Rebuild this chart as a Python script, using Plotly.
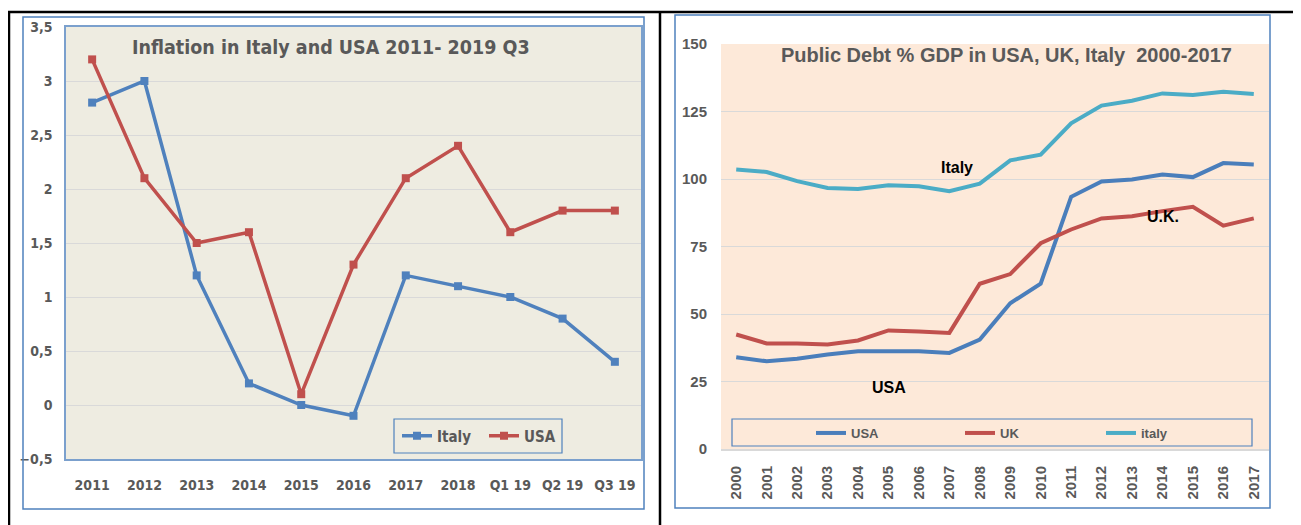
import plotly.graph_objects as go

W, H = 1301, 525

# ---------------- data ----------------
infl_labels = ["2011", "2012", "2013", "2014", "2015", "2016", "2017", "2018", "Q1 19", "Q2 19", "Q3 19"]
infl_italy = [2.8, 3.0, 1.2, 0.2, 0.0, -0.1, 1.2, 1.1, 1.0, 0.8, 0.4]
infl_usa = [3.2, 2.1, 1.5, 1.6, 0.1, 1.3, 2.1, 2.4, 1.6, 1.8, 1.8]

debt_years = [str(y) for y in range(2000, 2018)]
debt_usa = [34.0, 32.5, 33.4, 35.0, 36.2, 36.2, 36.2, 35.6, 40.5, 54.0, 61.2, 93.4, 99.1, 99.8, 101.7, 100.7, 105.9, 105.4]
debt_uk = [42.4, 39.1, 39.1, 38.7, 40.2, 43.9, 43.5, 43.0, 61.2, 64.8, 76.2, 81.3, 85.4, 86.2, 88.1, 89.7, 82.7, 85.4]
debt_italy = [103.5, 102.6, 99.2, 96.7, 96.3, 97.7, 97.3, 95.5, 98.3, 106.9, 109.0, 120.6, 127.2, 129.0, 131.7, 131.1, 132.3, 131.5]

# screen px -> paper (the page has an 8px body margin)
OFF = 8

def px(x):
    return (x - OFF) / W

def py(y):
    return 1 - (y - OFF) / H

NARROW = "Liberation Sans Narrow, Arial Narrow, DejaVu Sans Condensed, sans-serif"
ARIAL = "Liberation Sans, Arial, sans-serif"
GREY = "#595959"
BLUE = "#4F81BD"
RED = "#C0504D"
CYAN = "#4BACC6"

fig = go.Figure()

# ---------------- left chart: inflation ----------------
fig.add_trace(go.Scatter(x=infl_labels, y=infl_italy, name="Italy", mode="lines+markers",
                         line=dict(color=BLUE, width=3.5), marker=dict(symbol="square", size=8, color=BLUE),
                         xaxis="x", yaxis="y", legend="legend4"))
fig.add_trace(go.Scatter(x=infl_labels, y=infl_usa, name="USA", mode="lines+markers",
                         line=dict(color=RED, width=3.5), marker=dict(symbol="square", size=8, color=RED),
                         xaxis="x", yaxis="y", legend="legend5"))

# ---------------- right chart: public debt ----------------
fig.add_trace(go.Scatter(x=debt_years, y=debt_usa, name="USA", mode="lines",
                         line=dict(color="#4A7EBB", width=4), xaxis="x2", yaxis="y2", legend="legend"))
fig.add_trace(go.Scatter(x=debt_years, y=debt_uk, name="UK", mode="lines",
                         line=dict(color=RED, width=4), xaxis="x2", yaxis="y2", legend="legend2"))
fig.add_trace(go.Scatter(x=debt_years, y=debt_italy, name="italy", mode="lines",
                         line=dict(color=CYAN, width=4), xaxis="x2", yaxis="y2", legend="legend3"))

shapes = [
    # black table frame
    dict(type="line", xref="paper", yref="paper", x0=0, x1=1, y0=py(12), y1=py(12),
         line=dict(color="black", width=2.5)),
    dict(type="line", xref="paper", yref="paper", x0=1 / W, x1=1 / W, y0=py(12), y1=0,
         line=dict(color="black", width=2.5)),
    dict(type="line", xref="paper", yref="paper", x0=px(660), x1=px(660), y0=py(12), y1=0,
         line=dict(color="black", width=2.5)),
    # chart borders
    dict(type="rect", xref="paper", yref="paper", x0=px(23), x1=px(644), y0=py(509), y1=py(17),
         line=dict(color=BLUE, width=1.5)),
    dict(type="rect", xref="paper", yref="paper", x0=px(675), x1=px(1270), y0=py(508), y1=py(15),
         line=dict(color=BLUE, width=1.5)),
    # legend boxes
    dict(type="rect", xref="paper", yref="paper", x0=px(394), x1=px(562), y0=py(453), y1=py(419),
         line=dict(color=BLUE, width=1.2)),
    dict(type="rect", xref="paper", yref="paper", x0=px(732), x1=px(1252), y0=py(446), y1=py(419),
         line=dict(color=BLUE, width=1.2)),
]

def ann(text, x, y, family, size, color, weight="bold"):
    return dict(text=text, xref="paper", yref="paper", x=px(x), y=py(y), showarrow=False,
                xanchor="center", yanchor="middle",
                font=dict(family=family, size=size, color=color, weight=weight))

annotations = [
    ann("Inflation in Italy and USA 2011- 2019 Q3", 331, 47, NARROW, 19.5, GREY),
    ann("Public Debt % GDP in USA, UK, Italy  2000-2017", 1006, 55, ARIAL, 20, GREY),
    ann("Italy", 957, 167, ARIAL, 16, "black"),
    ann("U.K.", 1163, 217, ARIAL, 16, "black"),
    ann("USA", 889, 387, ARIAL, 16, "black"),
]

def leg(x, y, family, size):
    return dict(x=px(x), y=py(y), xanchor="left", yanchor="middle", orientation="h",
                bgcolor="rgba(0,0,0,0)", borderwidth=0,
                font=dict(family=family, size=size, color=GREY, weight="bold"))

fig.update_layout(
    width=W, height=H,
    margin=dict(l=0, r=0, t=0, b=0, autoexpand=False),
    paper_bgcolor="white",
    plot_bgcolor="white",
    separators=",.",
    showlegend=True,
    shapes=shapes,
    annotations=annotations,
    xaxis=dict(domain=[px(66), px(641)], anchor="y", type="category", range=[-0.5, 10.5],
               showgrid=False, showline=True, mirror=True, linecolor="#7BA0CD", linewidth=1.5,
               ticks="", ticklabelstandoff=12,
               tickfont=dict(family=NARROW, size=14, color=GREY, weight="bold")),
    yaxis=dict(domain=[py(459), py(27)], anchor="x", range=[-0.5, 3.5], dtick=0.5, tick0=0,
               showgrid=True, gridcolor="#D9D9D9", gridwidth=1.2, zeroline=False,
               showline=True, mirror=True, linecolor="#7BA0CD", linewidth=1.5,
               ticks="", ticklabelstandoff=9,
               tickfont=dict(family=NARROW, size=14, color=GREY, weight="bold")),
    xaxis2=dict(domain=[px(721), px(1269)], anchor="y2", type="category", range=[-0.5, 17.5],
                showgrid=False, showline=True, linecolor="#D9D9D9", linewidth=2,
                ticks="", tickangle=-90, ticklabelstandoff=9,
                tickfont=dict(family=ARIAL, size=15, color=GREY, weight="bold")),
    yaxis2=dict(domain=[py(449), py(44)], anchor="x2", range=[0, 150], dtick=25,
                showgrid=True, gridcolor="#D9D9D9", gridwidth=1.2, zeroline=False,
                showline=False, ticks="", ticklabelstandoff=13,
                tickfont=dict(family=ARIAL, size=15, color=GREY, weight="bold")),
    legend=leg(811, 433, ARIAL, 13),
    legend2=leg(960, 433, ARIAL, 13),
    legend3=leg(1101, 433, ARIAL, 13),
    legend4=leg(397, 436, NARROW, 15),
    legend5=leg(484, 436, NARROW, 15),
)

# plot-area backgrounds
fig.add_shape(type="rect", xref="x domain", yref="y domain", x0=0, x1=1, y0=0, y1=1,
              fillcolor="#EEECE1", line=dict(width=0), layer="below")
fig.add_shape(type="rect", xref="x2 domain", yref="y2 domain", x0=0, x1=1, y0=0, y1=1,
              fillcolor="#FDE9D9", line=dict(width=0), layer="below")

fig.write_html("out.html")
